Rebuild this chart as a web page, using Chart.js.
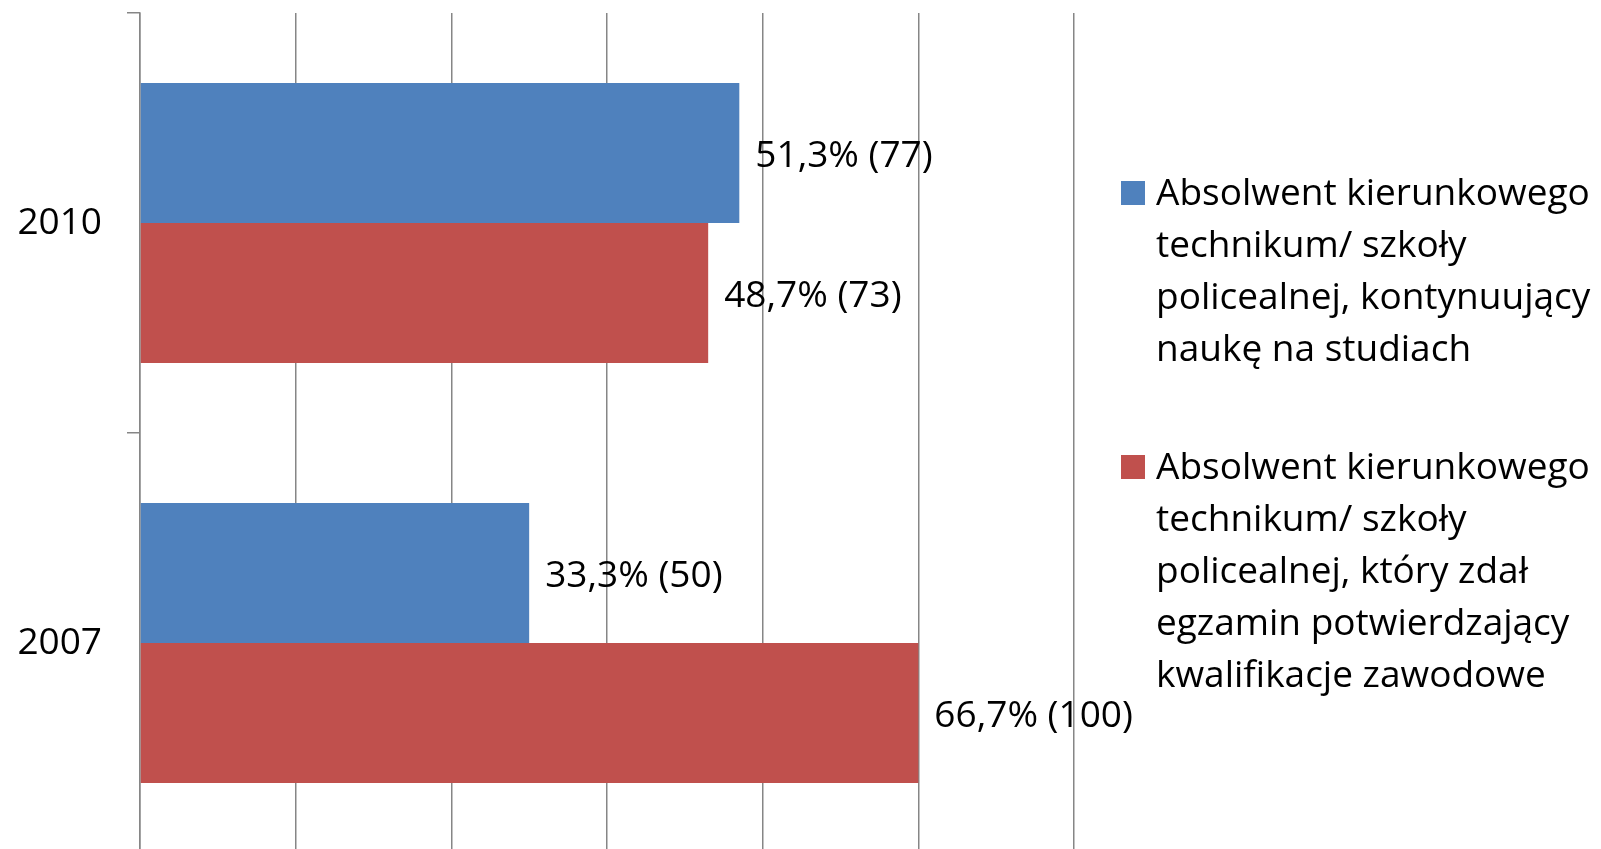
<!DOCTYPE html>
<html>
<head>
<meta charset="utf-8">
<script src="https://cdn.jsdelivr.net/npm/chart.js@4/dist/chart.umd.min.js"></script>
<style>
html,body{margin:0;padding:0;background:#fff;overflow:hidden}
#wrap{position:relative;width:1601px;height:853px}
</style>
</head>
<body>
<div id="wrap"><canvas id="c"></canvas></div>
<script>
const categories = ['2010', '2007'];
const seriesNames = [
  ['Absolwent kierunkowego', 'technikum/ szkoły', 'policealnej, kontynuujący', 'naukę na studiach'],
  ['Absolwent kierunkowego', 'technikum/ szkoły', 'policealnej, który zdał', 'egzamin potwierdzający', 'kwalifikacje zawodowe']
];
const countsStudies = [77, 50];
const countsExam = [73, 100];
const pctStudies = [51.3, 33.3];
const pctExam = [48.7, 66.7];
const xMin = 0, xMax = 120, xStep = 20;

const FONT_FAMILY = "'Open Sans', sans-serif";
const FONT_SIZE = 37;
const GRID = '#868686';
const seriesColors = ['#4F81BD', '#C0504D'];
const pctSets = [pctStudies, pctExam];

const fmt = (p, n) => p.toFixed(1).replace('.', ',') + '% (' + n + ')';

const dataLabels = {
  id: 'dataLabels',
  afterDatasetsDraw(chart) {
    const ctx = chart.ctx;
    ctx.save();
    ctx.font = FONT_SIZE + 'px ' + FONT_FAMILY;
    ctx.fillStyle = '#000';
    ctx.textAlign = 'left';
    ctx.textBaseline = 'alphabetic';
    chart.data.datasets.forEach((ds, i) => {
      const meta = chart.getDatasetMeta(i);
      meta.data.forEach((el, j) => {
        ctx.fillText(fmt(pctSets[i][j], ds.data[j]), el.x + 16, el.y + 14);
      });
    });
    ctx.restore();
  }
};

const sideLegend = {
  id: 'sideLegend',
  afterDraw(chart) {
    const ctx = chart.ctx;
    const ca = chart.chartArea;
    ctx.save();
    ctx.font = FONT_SIZE + 'px ' + FONT_FAMILY;
    ctx.textBaseline = 'alphabetic';
    ctx.textAlign = 'left';
    const lineH = 52;
    const boxX = ca.right + 47;
    const textX = ca.right + 82;
    const firstBaselines = [205, 479];
    chart.data.datasets.forEach((ds, i) => {
      const b = firstBaselines[i];
      ctx.fillStyle = ds.backgroundColor;
      ctx.fillRect(boxX, b - 24, 24, 24);
      ctx.fillStyle = '#000';
      ds.legendLines.forEach((line, k) => {
        ctx.fillText(line, textX, b + k * lineH);
      });
    });
    ctx.restore();
  }
};

new Chart(document.getElementById('c'), {
  type: 'bar',
  data: {
    labels: categories,
    datasets: [
      { label: seriesNames[0].join(' '), legendLines: seriesNames[0], data: countsStudies,
        backgroundColor: seriesColors[0], borderWidth: 0, categoryPercentage: 2/3, barPercentage: 1 },
      { label: seriesNames[1].join(' '), legendLines: seriesNames[1], data: countsExam,
        backgroundColor: seriesColors[1], borderWidth: 0, categoryPercentage: 2/3, barPercentage: 1 }
    ]
  },
  options: {
    indexAxis: 'y',
    responsive: true,
    maintainAspectRatio: false,
    animation: false,
    devicePixelRatio: 1,
    layout: { padding: { top: 13, right: 527, left: 0, bottom: 0 } },
    plugins: { legend: { display: false }, tooltip: { enabled: false } },
    scales: {
      x: {
        min: xMin, max: xMax,
        ticks: { display: false, stepSize: xStep },
        grid: { color: GRID, lineWidth: 1.5, drawTicks: false },
        border: { display: false },
        afterFit(s) { s.height = 0; s.paddingLeft = 0; s.paddingRight = 0; }
      },
      y: {
        ticks: { color: '#000', padding: 25, font: { family: FONT_FAMILY, size: FONT_SIZE } },
        grid: { offset: true, drawOnChartArea: false, tickLength: 13, color: GRID, lineWidth: 1.5 },
        border: { display: true, color: GRID, width: 1.5 },
        afterFit(s) { s.width = 140; s.paddingTop = 0; s.paddingBottom = 0; }
      }
    }
  },
  plugins: [dataLabels, sideLegend]
});
</script>
</body>
</html>
